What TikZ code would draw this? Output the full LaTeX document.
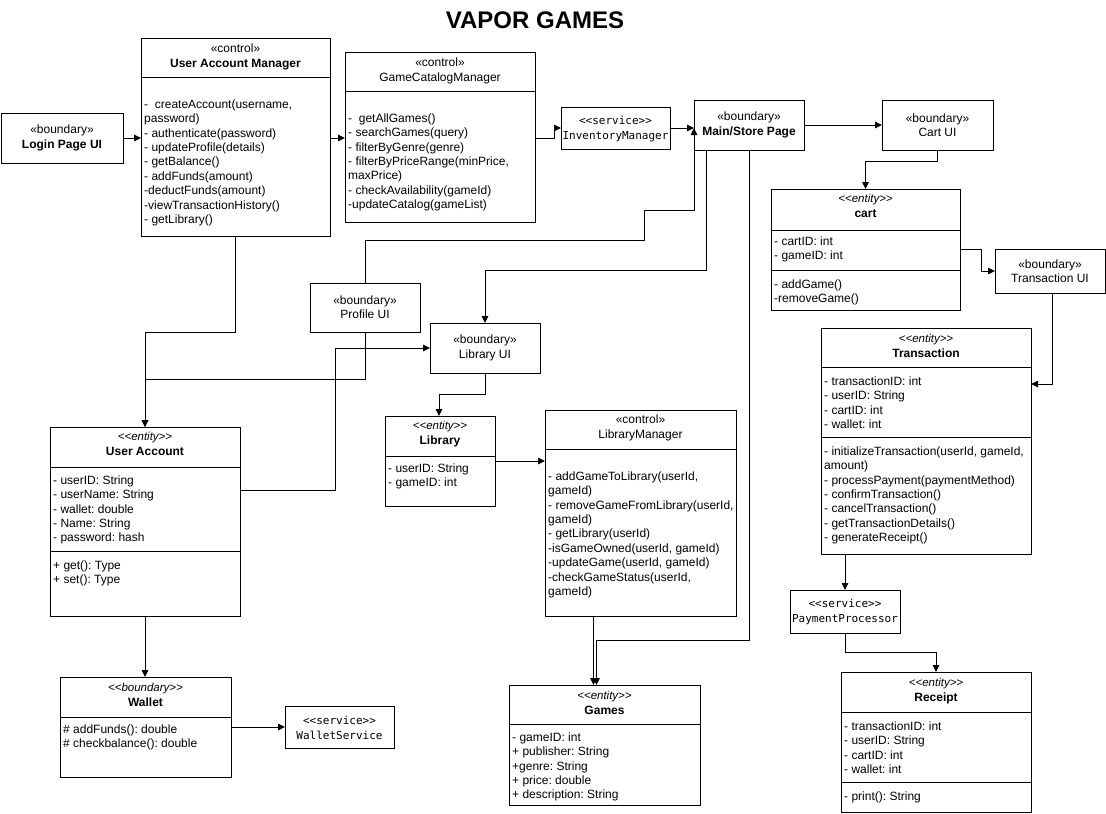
\documentclass[tikz,border=0pt]{standalone}
\usepackage{fontspec}
\setmainfont{Liberation Sans}
\newfontfamily\svcfont{DejaVu Sans Mono}
\usetikzlibrary{arrows.meta}
\newcommand\stl{<\kern0pt<}
\newcommand\stg{>\kern0pt>}
\newcommand\ent[1]{{\fontsize{11.5}{14.4}\selectfont\itshape\stl#1\stg}}
\frenchspacing
\begin{document}
\begin{tikzpicture}[x=1pt,y=-1pt,
  box/.style={draw, line width=0.9pt, inner sep=0pt, outer sep=0pt, anchor=north west},
  sepline/.style={line width=0.9pt},
  hdr/.style={align=center, inner sep=0pt, font=\fontsize{12}{14.4}\selectfont},
  svc/.style={align=center, inner sep=0pt, font=\svcfont\fontsize{11}{14.4}\selectfont},
  body/.style={align=left, anchor=north west, inner sep=0pt, font=\fontsize{12}{14.4}\selectfont},
  conn/.style={draw, line width=0.9pt, -{Triangle[length=7pt,width=6.5pt]}}]
\useasboundingbox (0,0) rectangle (1106,814);

\node[font=\fontsize{24}{28}\selectfont\bfseries] (title) at (535,20) {VAPOR GAMES};

% ---------- boxes ----------
\node[box, minimum width=122, minimum height=50] (login) at (1,113) {};
\node[hdr] (login-t) at (62,138) {«boundary»\\\textbf{Login Page UI}};

\node[box, minimum width=189, minimum height=198] (uam) at (141,38) {};
\draw[sepline] ([yshift=-39pt]uam.north west) -- ([yshift=-39pt]uam.north east);
\node[hdr] (uam-h) at (235.5,57) {«control»\\\textbf{User Account Manager}};
\node[body] (uam-b) at (144,98) {\strut-\ \ createAccount(username,\\password)\\- authenticate(password)\\- updateProfile(details)\\- getBalance()\\- addFunds(amount)\\-deductFunds(amount)\\-viewTransactionHistory()\\- getLibrary()};

\node[box, minimum width=190, minimum height=170] (gcm) at (345,52) {};
\draw[sepline] ([yshift=-39pt]gcm.north west) -- ([yshift=-39pt]gcm.north east);
\node[hdr] (gcm-h) at (440,71) {«control»\\GameCatalogManager};
\node[body] (gcm-b) at (348,112) {\strut-\ \ getAllGames()\\- searchGames(query)\\- filterByGenre(genre)\\- filterByPriceRange(minPrice,\\maxPrice)\\- checkAvailability(gameId)\\-updateCatalog(gameList)};

\node[box, minimum width=109, minimum height=42] (inv) at (561,107) {};
\node[svc] (inv-t) at (615.5,129) {\stl service\stg\\InventoryManager};

\node[box, minimum width=110, minimum height=50] (main) at (694,100) {};
\node[hdr] (main-t) at (749,125) {«boundary»\\\textbf{Main/Store Page}};

\node[box, minimum width=111, minimum height=50] (cartui) at (882,100) {};
\node[hdr] (cartui-t) at (937.5,125) {«boundary»\\Cart UI};

\node[box, minimum width=189, minimum height=121] (cart) at (771,189) {};
\draw[sepline] ([yshift=-41pt]cart.north west) -- ([yshift=-41pt]cart.north east);
\draw[sepline] ([yshift=-81pt]cart.north west) -- ([yshift=-81pt]cart.north east);
\node[hdr] (cart-h) at (865.5,206) {\ent{entity}\\\textbf{cart}};
\node[body] (cart-b1) at (774,235) {\strut- cartID: int\\- gameID: int};
\node[body] (cart-b2) at (774,278) {\strut- addGame()\\-removeGame()};

\node[box, minimum width=110, minimum height=44] (transui) at (995,249) {};
\node[hdr] (transui-t) at (1050,271) {«boundary»\\Transaction UI};

\node[box, minimum width=210, minimum height=226] (trans) at (821,328) {};
\draw[sepline] ([yshift=-39pt]trans.north west) -- ([yshift=-39pt]trans.north east);
\draw[sepline] ([yshift=-109pt]trans.north west) -- ([yshift=-109pt]trans.north east);
\node[hdr] (trans-h) at (926,346) {\ent{entity}\\\textbf{Transaction}};
\node[body] (trans-b1) at (824,375) {\strut- transactionID: int\\- userID: String\\- cartID: int\\- wallet: int};
\node[body] (trans-b2) at (824,445) {\strut- initializeTransaction(userId, gameId,\\amount)\\- processPayment(paymentMethod)\\- confirmTransaction()\\- cancelTransaction()\\- getTransactionDetails()\\- generateReceipt()};

\node[box, minimum width=110, minimum height=43] (pay) at (790,590) {};
\node[svc] (pay-t) at (845,612) {\stl service\stg\\PaymentProcessor};

\node[box, minimum width=190, minimum height=140] (receipt) at (841,672) {};
\draw[sepline] ([yshift=-40pt]receipt.north west) -- ([yshift=-40pt]receipt.north east);
\draw[sepline] ([yshift=-110pt]receipt.north west) -- ([yshift=-110pt]receipt.north east);
\node[hdr] (receipt-h) at (936,691) {\ent{entity}\\\textbf{Receipt}};
\node[body] (receipt-b1) at (844,720) {\strut- transactionID: int\\- userID: String\\- cartID: int\\- wallet: int};
\node[body] (receipt-b2) at (844,790) {\strut- print(): String};

\node[box, minimum width=110, minimum height=49] (profile) at (310,283) {};
\node[hdr] (profile-t) at (365,307.5) {«boundary»\\Profile UI};

\node[box, minimum width=110, minimum height=50] (libui) at (430,323) {};
\node[hdr] (libui-t) at (485,348) {«boundary»\\Library UI};

\node[box, minimum width=110, minimum height=90] (library) at (385,416) {};
\draw[sepline] ([yshift=-40pt]library.north west) -- ([yshift=-40pt]library.north east);
\node[hdr] (library-h) at (440,434) {\ent{entity}\\\textbf{Library}};
\node[body] (library-b) at (388,462) {\strut- userID: String\\- gameID: int};

\node[box, minimum width=191, minimum height=206] (libmgr) at (545,410) {};
\draw[sepline] ([yshift=-39pt]libmgr.north west) -- ([yshift=-39pt]libmgr.north east);
\node[hdr] (libmgr-h) at (640.5,428) {«control»\\LibraryManager};
\node[body] (libmgr-b) at (548,470) {\strut- addGameToLibrary(userId,\\gameId)\\- removeGameFromLibrary(userId,\\gameId)\\- getLibrary(userId)\\-isGameOwned(userId, gameId)\\-updateGame(userId, gameId)\\-checkGameStatus(userId,\\gameId)};

\node[box, minimum width=190, minimum height=189] (useracc) at (50,427) {};
\draw[sepline] ([yshift=-40pt]useracc.north west) -- ([yshift=-40pt]useracc.north east);
\draw[sepline] ([yshift=-124pt]useracc.north west) -- ([yshift=-124pt]useracc.north east);
\node[hdr] (useracc-h) at (145,444) {\ent{entity}\\\textbf{User Account}};
\node[body] (useracc-b1) at (53,474) {\strut- userID: String\\- userName: String\\- wallet: double\\- Name: String\\- password: hash};
\node[body] (useracc-b2) at (53,559) {\strut+ get(): Type\\+ set(): Type};

\node[box, minimum width=171, minimum height=100] (wallet) at (60,677) {};
\draw[sepline] ([yshift=-40pt]wallet.north west) -- ([yshift=-40pt]wallet.north east);
\node[hdr] (wallet-h) at (145.5,695) {\ent{boundary}\\\textbf{Wallet}};
\node[body] (wallet-b) at (63,723) {\strut\# addFunds(): double\\\# checkbalance(): double};

\node[box, minimum width=109, minimum height=42] (wsvc) at (285,706) {};
\node[svc] (wsvc-t) at (339.5,728) {\stl service\stg\\WalletService};

\node[box, minimum width=191, minimum height=120] (games) at (509,685) {};
\draw[sepline] ([yshift=-39pt]games.north west) -- ([yshift=-39pt]games.north east);
\node[hdr] (games-h) at (604.5,703) {\ent{entity}\\\textbf{Games}};
\node[body] (games-b) at (512,731) {\strut- gameID: int\\+ publisher: String\\+genre: String\\+ price: double\\+ description: String};

% ---------- connectors ----------
\coordinate (mainin) at (inv.east -| main.west);
\coordinate (gamesin) at ([xshift=-9pt]games.north);

\draw[conn] (login.east) -- (login.east -| uam.west);
\draw[conn] (uam.east |- login.east) -- (login.east -| gcm.west);
\draw[conn] (gcm.east |- login.east) -| ([xshift=-7pt]inv.west) -- (inv.west);
\draw[conn] (inv.east) -- (mainin);
\draw[conn] (profile.north) |- (644,240) |- (694,210) -- (mainin);
\draw[conn] (main.east) -- (cartui.west);
\draw[conn] (cartui.south) -- ++(0,11) -| (cart.north);
\draw[conn] (cart.east) -- ++(21,0) |- (transui.west);
\draw[conn] ([xshift=2pt]transui.south) |- (trans.east |- 0,384);
\draw[conn] (pay.north |- trans.south) -- (pay.north);
\draw[conn] (pay.south) -- ++(0,19) -| (receipt.north);
\draw[conn] (main.south) -- (main.south |- 0,640) -| ([xshift=1pt]gamesin);
\draw[conn] ([xshift=-2pt]gamesin |- libmgr.south) -- ([xshift=-2pt]gamesin);
\draw[conn] ([xshift=-43pt]main.south) -- ++(0,120) -| (libui.north);
\draw[conn] (uam.south) -- ++(0,96) -| (useracc.north);
\draw[conn] (profile.south) -- ++(0,47) -| (useracc.north);
\draw[conn] ([yshift=31.5pt]useracc.east) -- ++(95,0) |- (libui.west);
\draw[conn] (libui.south) -- ++(0,21) -| ([xshift=-1pt]library.north);
\draw[conn] (library.east) -- (library.east -| libmgr.west);
\draw[conn] (useracc.south) -- (useracc.south |- wallet.north);
\draw[conn] (wallet.east) -- (wsvc.west);
\end{tikzpicture}
\end{document}
